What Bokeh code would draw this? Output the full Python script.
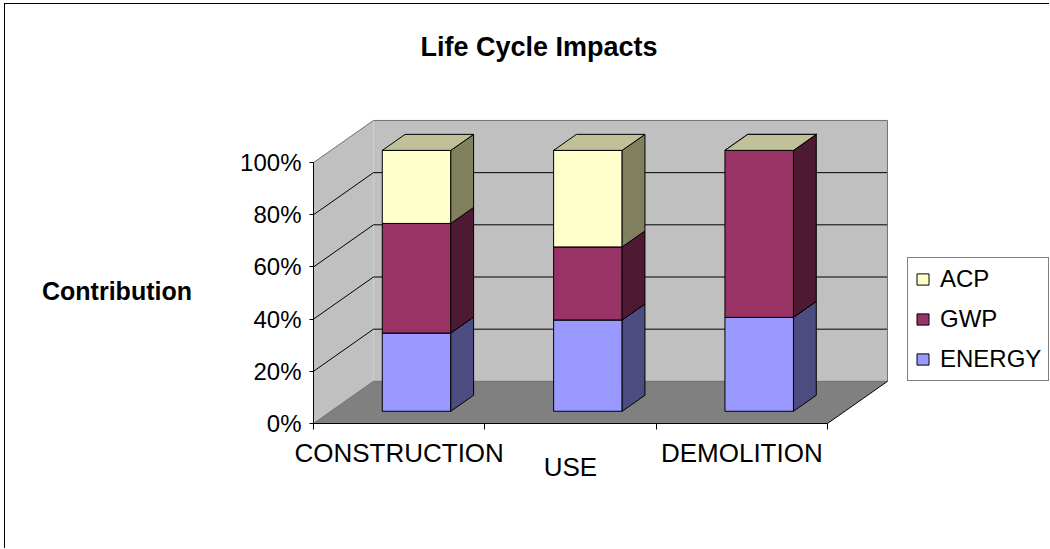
from bokeh.plotting import figure
from bokeh.models import FixedTicker, Legend, LegendItem, Range1d, Label
from bokeh.embed import file_html
from bokeh.resources import INLINE

# ---------------- data ----------------
categories = ["CONSTRUCTION", "USE", "DEMOLITION"]
series_names = ["ENERGY", "GWP", "ACP"]
energy = [30, 35, 36]
gwp = [42, 28, 64]
acp = [28, 37, 0]
y_ticks = [0, 20, 40, 60, 80, 100]
y_tick_labels = ["0%", "20%", "40%", "60%", "80%", "100%"]
title_text = "Life Cycle Impacts"
y_title = "Contribution"

# ---------------- style / layout ----------------
FONT = "Liberation Sans"
front_colors = {"ENERGY": "#9999FF", "GWP": "#993366", "ACP": "#FFFFCC"}
side_colors = {"ENERGY": "#4C4C80", "GWP": "#4D1933", "ACP": "#80805F"}
top_colors = {"ENERGY": "#CCCCFF", "GWP": "#CC99B2", "ACP": "#C0C099"}
DX = 0.35      # depth offset in category units
DY = 16.15     # depth offset in percent units
BW = 0.4       # bar width
F0 = 0.29      # bar front depth fraction
BD = 0.38      # bar depth fraction
n = len(categories)

W, H = 1044, 544           # canvas size (whole canvas is the plot frame)
PX_X = 171.33              # pixels per category
PX_Y = 2.609               # pixels per percent
OX, OY = 308, 419          # canvas position of the axes origin
x_range = Range1d(-OX / PX_X, (W - OX) / PX_X)
y_range = Range1d(-(H - OY) / PX_Y, OY / PX_Y)

p = figure(frame_width=W, frame_height=H, x_range=x_range, y_range=y_range,
           output_backend="svg", toolbar_location=None,
           min_border_left=0, min_border_right=0,
           min_border_top=0, min_border_bottom=0)
p.outline_line_color = None
p.grid.visible = False
p.background_fill_color = "white"
p.border_fill_color = "white"
p.styles = {"margin-left": "4px", "margin-top": "3px",
            "border-left": "1px solid black", "border-top": "1px solid black"}

# walls and floor
p.patch([0, 0, DX, DX], [0, 100, 100 + DY, DY], fill_color="#C0C0C0", line_color=None)
p.patch([DX, n + DX, n + DX, DX], [DY, DY, 100 + DY, 100 + DY], fill_color="#C0C0C0", line_color=None)
p.patch([0, n, n + DX, DX], [0, 0, DY, DY], fill_color="#808080", line_color=None)

# gridlines
gx, gy = [], []
for v in y_ticks[1:-1]:
    gx.append([DX, n + DX]); gy.append([DY + v, DY + v])
    gx.append([0, DX]); gy.append([v, DY + v])
p.multi_line(gx, gy, line_color="black", line_width=1)

# wall edges (gray)
ex = [[0, DX], [DX, n + DX], [n + DX, n + DX], [DX, n + DX], [0, DX]]
ey = [[100, 100 + DY], [100 + DY, 100 + DY], [DY, 100 + DY], [DY, DY], [0, DY]]
p.multi_line(ex, ey, line_color="#707070", line_width=1)
p.line([n, n + DX], [0, DY], line_color="black", line_width=1)

# bars
values = {"ENERGY": energy, "GWP": gwp, "ACP": acp}
bottoms = [0.0] * n
front_renderers = {}
for s in series_names:
    fx, fy, sx, sy, tx, ty = [], [], [], [], [], []
    for i in range(n):
        b = bottoms[i]
        t = b + values[s][i]
        x0 = i + 0.5 - BW / 2 + F0 * DX
        x1 = x0 + BW
        y0 = b + F0 * DY
        y1 = t + F0 * DY
        ddx, ddy = BD * DX, BD * DY
        fx.append([x0, x1, x1, x0]); fy.append([y0, y0, y1, y1])
        sx.append([x1, x1 + ddx, x1 + ddx, x1]); sy.append([y0, y0 + ddy, y1 + ddy, y1])
        tx.append([x0, x1, x1 + ddx, x0 + ddx]); ty.append([y1, y1, y1 + ddy, y1 + ddy])
        bottoms[i] = t
    front_renderers[s] = p.patches(fx, fy, fill_color=front_colors[s], line_color="black", line_width=1)
    p.patches(sx, sy, fill_color=side_colors[s], line_color="black", line_width=1)
    p.patches(tx, ty, fill_color=top_colors[s], line_color="black", line_width=1)

# y axis (drawn at x = 0)
ya = p.yaxis[0]
ya.fixed_location = 0
ya.ticker = FixedTicker(ticks=y_ticks, minor_ticks=[])
ya.major_label_overrides = {t: l for t, l in zip(y_ticks, y_tick_labels)}
ya.bounds = (0, 100)
ya.major_tick_out = 4
ya.major_tick_in = 0
ya.major_label_standoff = 8
ya.major_label_text_font = FONT
ya.major_label_text_font_size = "24px"
ya.major_label_text_color = "black"
ya.axis_line_color = "black"
ya.major_tick_line_color = "black"

# x axis (drawn at y = 0)
xa = p.xaxis[0]
xa.fixed_location = 0
xa.ticker = FixedTicker(ticks=[i + 0.5 for i in range(n)], minor_ticks=list(range(n + 1)))
xa.major_label_overrides = {i + 0.5: ("\n" + c if i % 2 == 1 else c) for i, c in enumerate(categories)}
xa.bounds = (0, n)
xa.major_tick_out = 0
xa.major_tick_in = 0
xa.minor_tick_out = 6
xa.minor_tick_in = 0
xa.minor_tick_line_color = "black"
xa.axis_line_color = "black"
xa.major_label_standoff = 8
xa.major_label_text_font = FONT
xa.major_label_text_font_size = "26px"
xa.major_label_text_line_height = 0.47
xa.major_label_text_color = "black"

# chart title and value-axis title
p.add_layout(Label(x=(538.5 - 313) / PX_X, y=(423 - 46) / PX_Y, text=title_text,
                   text_align="center", text_baseline="alphabetic",
                   text_font=FONT, text_font_size="27px", text_font_style="bold",
                   text_color="black"))
p.add_layout(Label(x=(116.5 - 313) / PX_X, y=(423 - 290) / PX_Y, text=y_title,
                   text_align="center", text_baseline="alphabetic",
                   text_font=FONT, text_font_size="25px", text_font_style="bold",
                   text_color="black"))

# legend
items = [LegendItem(label=s, renderers=[front_renderers[s]]) for s in reversed(series_names)]
legend = Legend(items=items, location=(902, 167), orientation="vertical",
                label_text_font=FONT, label_text_font_size="24px",
                label_text_color="black", label_height=27, glyph_height=14,
                glyph_width=15, spacing=12, padding=7, margin=0,
                label_standoff=10, border_line_color="black", border_line_width=1,
                background_fill_color="white", background_fill_alpha=1.0)
p.add_layout(legend, "center")

open("out.html", "w").write(file_html(p, INLINE))
